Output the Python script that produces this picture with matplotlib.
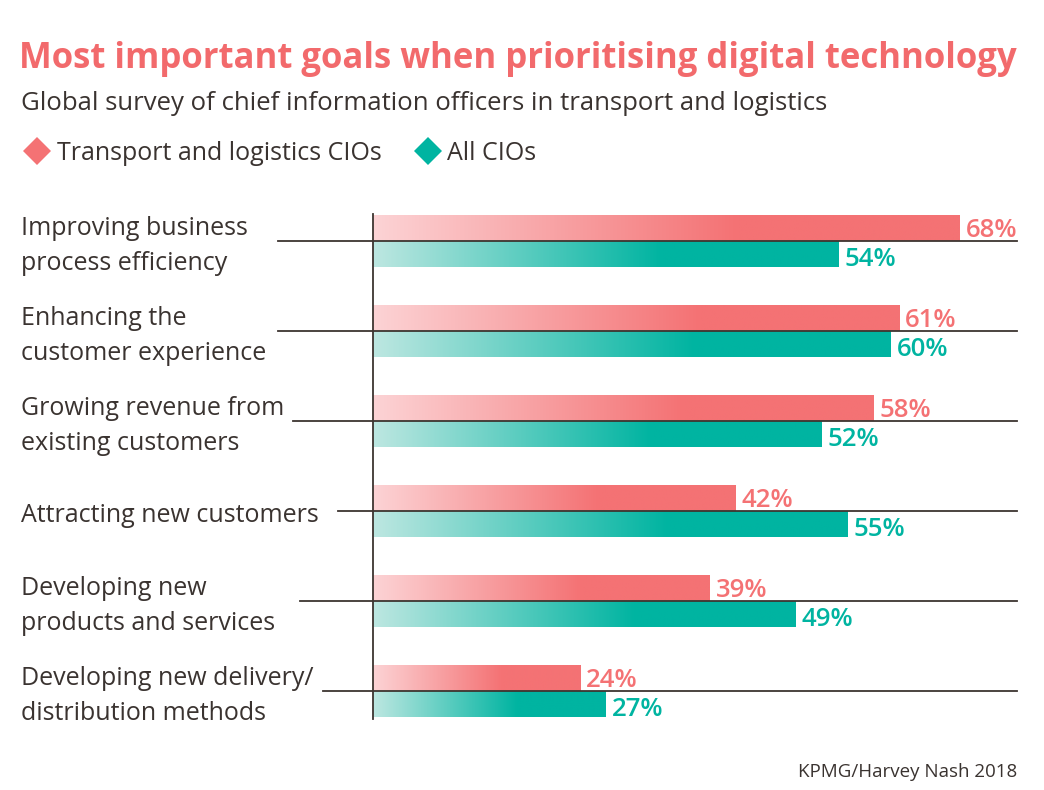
import matplotlib
matplotlib.use('Agg')
import matplotlib.pyplot as plt
import numpy as np
from matplotlib.colors import LinearSegmentedColormap
from matplotlib.lines import Line2D

# 数据
categories = [
    'Improving business\nprocess efficiency',
    'Enhancing the\ncustomer experience',
    'Growing revenue from\nexisting customers',
    'Attracting new customers',
    'Developing new\nproducts and services',
    'Developing new delivery/\ndistribution methods',
]
transport_cios = [68, 61, 58, 42, 39, 24]
all_cios = [54, 60, 52, 55, 49, 27]
series_names = ['Transport and logistics CIOs', 'All CIOs']

# 样式
W, H = 1044, 790
RED = '#F47274'
RED_LIGHT = '#FCD3D5'
TEAL = '#00B4A1'
TEAL_LIGHT = '#BDE7E1'
TITLE_RED = '#F26A6C'
TEXT = '#3A3330'
LINE = '#3D3530'
FONT = ['Open Sans', 'DejaVu Sans']
sep_start_px = [278, 278, 293, 338, 300, 323]  # 分隔线左端（像素）

plt.rcParams['font.family'] = FONT

fig = plt.figure(figsize=(W / 100, H / 100), dpi=100)
fig.patch.set_facecolor('white')


def fx(px):
    return px / W


def fy(py):
    return 1 - py / H


ax = fig.add_axes([fx(373), fy(725), fx(1020) - fx(373), fy(210) - fy(725)])
ax.set_xlim(0, 75)
y_top = (210 - 241) / 90
y_bot = (725 - 241) / 90
ax.set_ylim(y_bot, y_top)
ax.axis('off')


def gradient_cmap(light, full):
    return LinearSegmentedColormap.from_list('g', [(0, light), (0.62, full), (1, full)])


red_cmap = gradient_cmap(RED_LIGHT, RED)
teal_cmap = gradient_cmap(TEAL_LIGHT, TEAL)
grad = np.linspace(0, 1, 256).reshape(1, -1)

bar_h = 0.283
for i, (a, b) in enumerate(zip(transport_cios, all_cios)):
    ax.imshow(grad, cmap=red_cmap, aspect='auto', interpolation='bilinear',
              extent=[0, a, i, i - bar_h], zorder=2)
    ax.imshow(grad, cmap=teal_cmap, aspect='auto', interpolation='bilinear',
              extent=[0, b, i + bar_h + 0.01, i + 0.01], zorder=2)
    ax.text(a + 0.7, i - bar_h / 2 + 0.02, f'{a}%', color=RED, fontsize=18.5,
            fontweight='semibold', va='center', ha='left')
    ax.text(b + 0.7, i + bar_h / 2 + 0.06, f'{b}%', color=TEAL, fontsize=18.5,
            fontweight='semibold', va='center', ha='left')
    # 分隔线
    y_px = 241 + 90 * i
    fig.add_artist(Line2D([fx(sep_start_px[i]), fx(1017)], [fy(y_px), fy(y_px)],
                          color=LINE, lw=1.3, zorder=5))
    fig.text(fx(21), fy(y_px + 5), categories[i], color=TEXT, fontsize=18,
             va='center', ha='left', linespacing=1.54)

ax.set_xlim(0, 75)
ax.set_ylim(y_bot, y_top)
ax.plot([0, 0], [-bar_h - 0.02, len(categories) - 1 + bar_h + 0.03],
        color=LINE, lw=1.3, zorder=5, clip_on=False)

# 标题
fig.text(fx(19), fy(59), 'Most important goals when prioritising digital technology',
         color=TITLE_RED, fontsize=25, fontweight='bold', va='center', ha='left')
fig.text(fx(21), fy(104), 'Global survey of chief information officers in transport and logistics',
         color=TEXT, fontsize=18.5, va='center', ha='left')

# 图例
for mx, tx, col, name in [(37, 57, RED, series_names[0]), (428, 447, TEAL, series_names[1])]:
    fig.add_artist(Line2D([fx(mx)], [fy(151)], marker='D', markersize=14,
                          color=col, markeredgewidth=0, linestyle='none'))
    fig.text(fx(tx), fy(153), name, color=TEXT, fontsize=18, va='center', ha='left')

fig.text(fx(1017), fy(772), 'KPMG/Harvey Nash 2018', color=TEXT, fontsize=13.5,
         va='center', ha='right')

fig.savefig('out.png', dpi=100, facecolor='white')
